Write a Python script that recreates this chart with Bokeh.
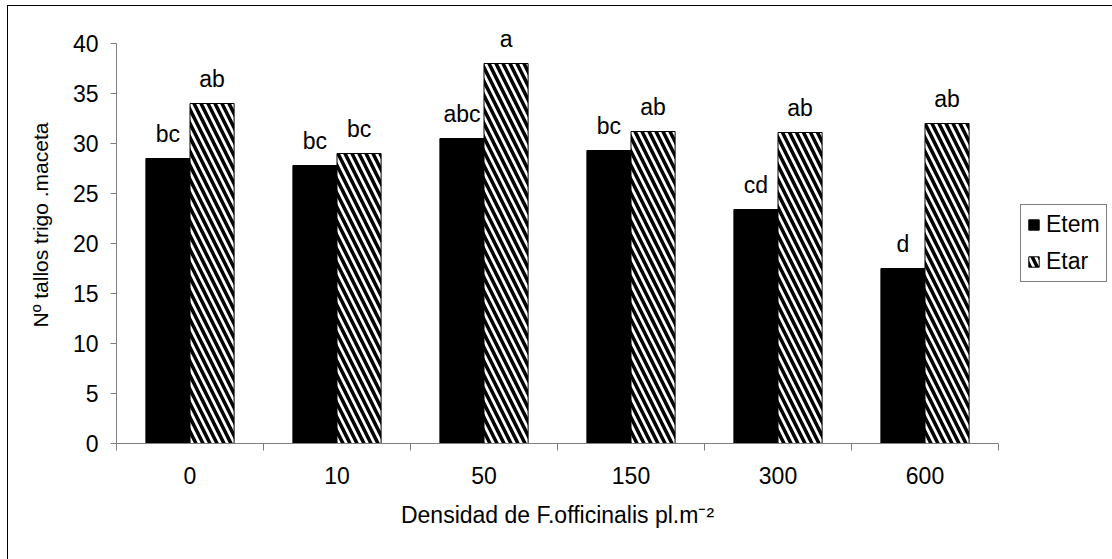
from bokeh.plotting import figure
from bokeh.models import (ColumnDataSource, Range1d, FixedTicker, SingleIntervalTicker,
                          Legend, LegendItem, LinearAxis)
from bokeh.core.properties import value
from bokeh.embed import file_html
from bokeh.resources import INLINE
import numpy as np

# ---- data ----
densities = ["0", "10", "50", "150", "300", "600"]
etem = [28.5, 27.8, 30.5, 29.3, 23.4, 17.5]
etar = [34.0, 29.0, 38.0, 31.2, 31.1, 32.0]
etem_letters = ["bc", "bc", "abc", "bc", "cd", "d"]
etar_letters = ["ab", "bc", "a", "ab", "ab", "ab"]
series_names = ["Etem", "Etar"]

FONT = "Liberation Sans"
FS = "23px"
FS_Y = "21px"

centers = np.arange(len(densities)) + 0.5
bw = 0.3
src_em = ColumnDataSource(dict(x=centers - bw / 2, top=etem, lab=etem_letters))
src_ar = ColumnDataSource(dict(x=centers + bw / 2, top=etar, lab=etar_letters))

p = figure(frame_width=882, frame_height=437, output_backend="svg", toolbar_location=None,
           x_range=Range1d(0, len(densities)), y_range=Range1d(0, 43.7),
           min_border_left=108, min_border_top=0, min_border_right=114, min_border_bottom=116,
           x_axis_location=None, y_axis_location=None)
p.styles = {"margin-left": "7px", "margin-top": "5px",
            "border-left": "1px solid #000", "border-top": "1px solid #000"}
p.outline_line_color = None
p.xgrid.visible = False
p.ygrid.visible = False
p.background_fill_color = "white"
p.border_fill_color = "white"

r_em = p.vbar(x="x", top="top", width=bw, source=src_em, fill_color="black", line_color="black")
r_ar = p.vbar(x="x", top="top", width=bw, source=src_ar, fill_color="white", line_color="black",
              line_width=1, hatch_pattern="\\", hatch_color="black", hatch_scale=14, hatch_weight=3.5)

for s in (src_em, src_ar):
    p.text(x="x", y="top", text="lab", source=s, text_align="center", text_baseline="bottom",
           y_offset=-12, text_font=value(FONT), text_font_size=FS, text_color="black")

# y axis
yax = LinearAxis(ticker=SingleIntervalTicker(interval=5), bounds=(0, 40))
yax.axis_label = "Nº tallos trigo .maceta"
yax.axis_line_color = "#808080"
yax.major_tick_line_color = "#808080"
yax.major_tick_in = 0
yax.major_tick_out = 6
yax.minor_tick_line_color = None
yax.major_label_standoff = 12
yax.major_label_text_font = FONT
yax.major_label_text_font_size = FS
yax.major_label_text_color = "black"
yax.axis_label_text_font = FONT
yax.axis_label_text_font_size = FS_Y
yax.axis_label_text_font_style = "normal"
yax.axis_label_text_color = "black"
yax.axis_label_standoff = 18
p.add_layout(yax, "left")

# x axis: labels at group centers, ticks at group boundaries
xax = LinearAxis(ticker=FixedTicker(ticks=list(centers),
                                    minor_ticks=list(np.arange(len(densities) + 1))))
xax.major_label_overrides = {float(c): d for c, d in zip(centers, densities)}
xax.axis_label = "Densidad de F.officinalis pl.m⁻²"
xax.axis_line_color = "#808080"
xax.major_tick_line_color = None
xax.major_tick_in = 0
xax.major_tick_out = 0
xax.minor_tick_line_color = "#808080"
xax.minor_tick_in = 0
xax.minor_tick_out = 7
xax.major_label_standoff = 16
xax.major_label_text_font = FONT
xax.major_label_text_font_size = FS
xax.major_label_text_color = "black"
xax.axis_label_text_font = FONT
xax.axis_label_text_font_size = FS
xax.axis_label_text_font_style = "normal"
xax.axis_label_text_color = "black"
xax.axis_label_standoff = 15
p.add_layout(xax, "below")

legend = Legend(items=[LegendItem(label=series_names[0], renderers=[r_em]),
                       LegendItem(label=series_names[1], renderers=[r_ar])],
                location=(22, 161))
legend.label_text_font = FONT
legend.label_text_font_size = FS
legend.label_text_color = "black"
legend.glyph_width = 13
legend.glyph_height = 13
legend.label_standoff = 6
legend.label_height = 26
legend.spacing = 10
legend.padding = 6
legend.margin = 0
legend.border_line_color = "black"
legend.border_line_width = 1
legend.background_fill_color = "white"
legend.background_fill_alpha = 1
p.add_layout(legend, "right")

open("out.html", "w").write(file_html(p, INLINE))
